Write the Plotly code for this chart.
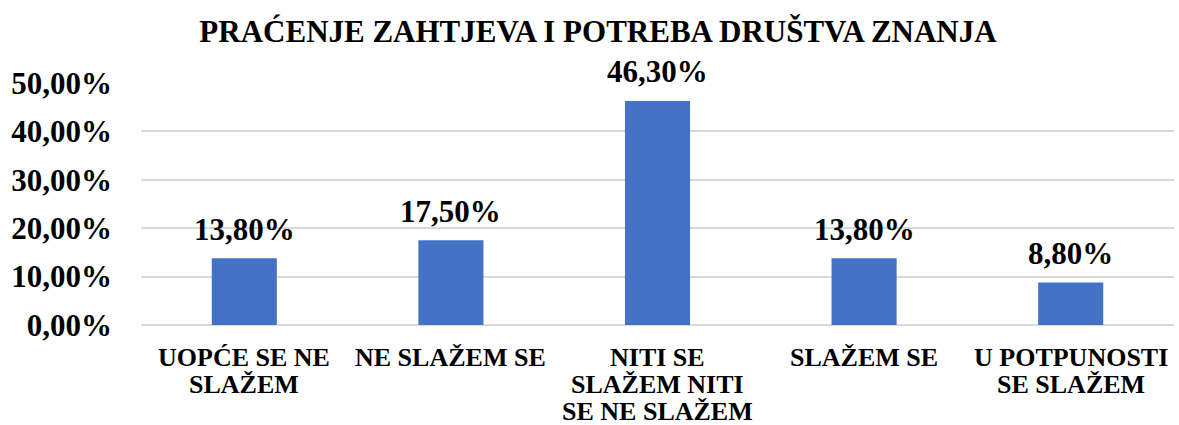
import plotly.graph_objects as go

categories = [
    "UOPĆE SE NE<br>SLAŽEM",
    "NE SLAŽEM SE",
    "NITI SE<br>SLAŽEM NITI<br>SE NE SLAŽEM",
    "SLAŽEM SE",
    "U POTPUNOSTI<br>SE SLAŽEM",
]
shares = [0.138, 0.175, 0.463, 0.138, 0.088]
y_ticks = [0, 0.1, 0.2, 0.3, 0.4, 0.5]

serif = "Liberation Serif, Times New Roman, serif"

fig = go.Figure(
    go.Bar(
        x=categories,
        y=shares,
        marker=dict(color="#4472C4", line=dict(width=0)),
        width=0.315,
        hoverinfo="x+y",
    )
)

annotations = []

# value labels above the bars
for cat, v in zip(categories, shares):
    annotations.append(dict(
        x=cat, y=v, xref="x", yref="y",
        text=f"{v * 100:.2f}%".replace(".", ","),
        showarrow=False, yanchor="middle", yshift=29,
        font=dict(family=serif, size=31, color="#000000", weight="bold"),
    ))

# category labels, one annotation per line for tight line spacing
line_step = 27
for cat in categories:
    for i, line in enumerate(cat.split("<br>")):
        annotations.append(dict(
            x=cat, y=0, xref="x", yref="paper",
            text=line, showarrow=False, yanchor="middle",
            yshift=-(32 + i * line_step),
            height=26, borderpad=0, valign="middle",
            font=dict(family=serif, size=26, color="#000000", weight="bold"),
        ))

fig.update_layout(
    width=1179,
    height=425,
    margin=dict(l=141, r=5, t=83, b=100),
    paper_bgcolor="white",
    plot_bgcolor="white",
    separators=",.",
    showlegend=False,
    annotations=annotations,
    title=dict(
        text="PRAĆENJE ZAHTJEVA I POTREBA DRUŠTVA ZNANJA",
        font=dict(family=serif, size=31, color="#000000", weight="bold"),
        x=598 / 1179,
        xanchor="center",
        xref="container",
        y=1 - 31 / 425,
        yref="container",
        yanchor="middle",
    ),
    xaxis=dict(
        showticklabels=False,
        showgrid=False,
        showline=False,
        ticks="",
    ),
    yaxis=dict(
        range=[0, 0.5],
        tickvals=y_ticks,
        tickformat=".2%",
        tickfont=dict(family=serif, size=31, color="#000000", weight="bold"),
        showgrid=True,
        gridcolor="#D9D9D9",
        gridwidth=1.5,
        zeroline=True,
        zerolinecolor="#D9D9D9",
        zerolinewidth=1.5,
        ticks="",
        ticklabelstandoff=28,
    ),
)

fig.write_html("out.html")
